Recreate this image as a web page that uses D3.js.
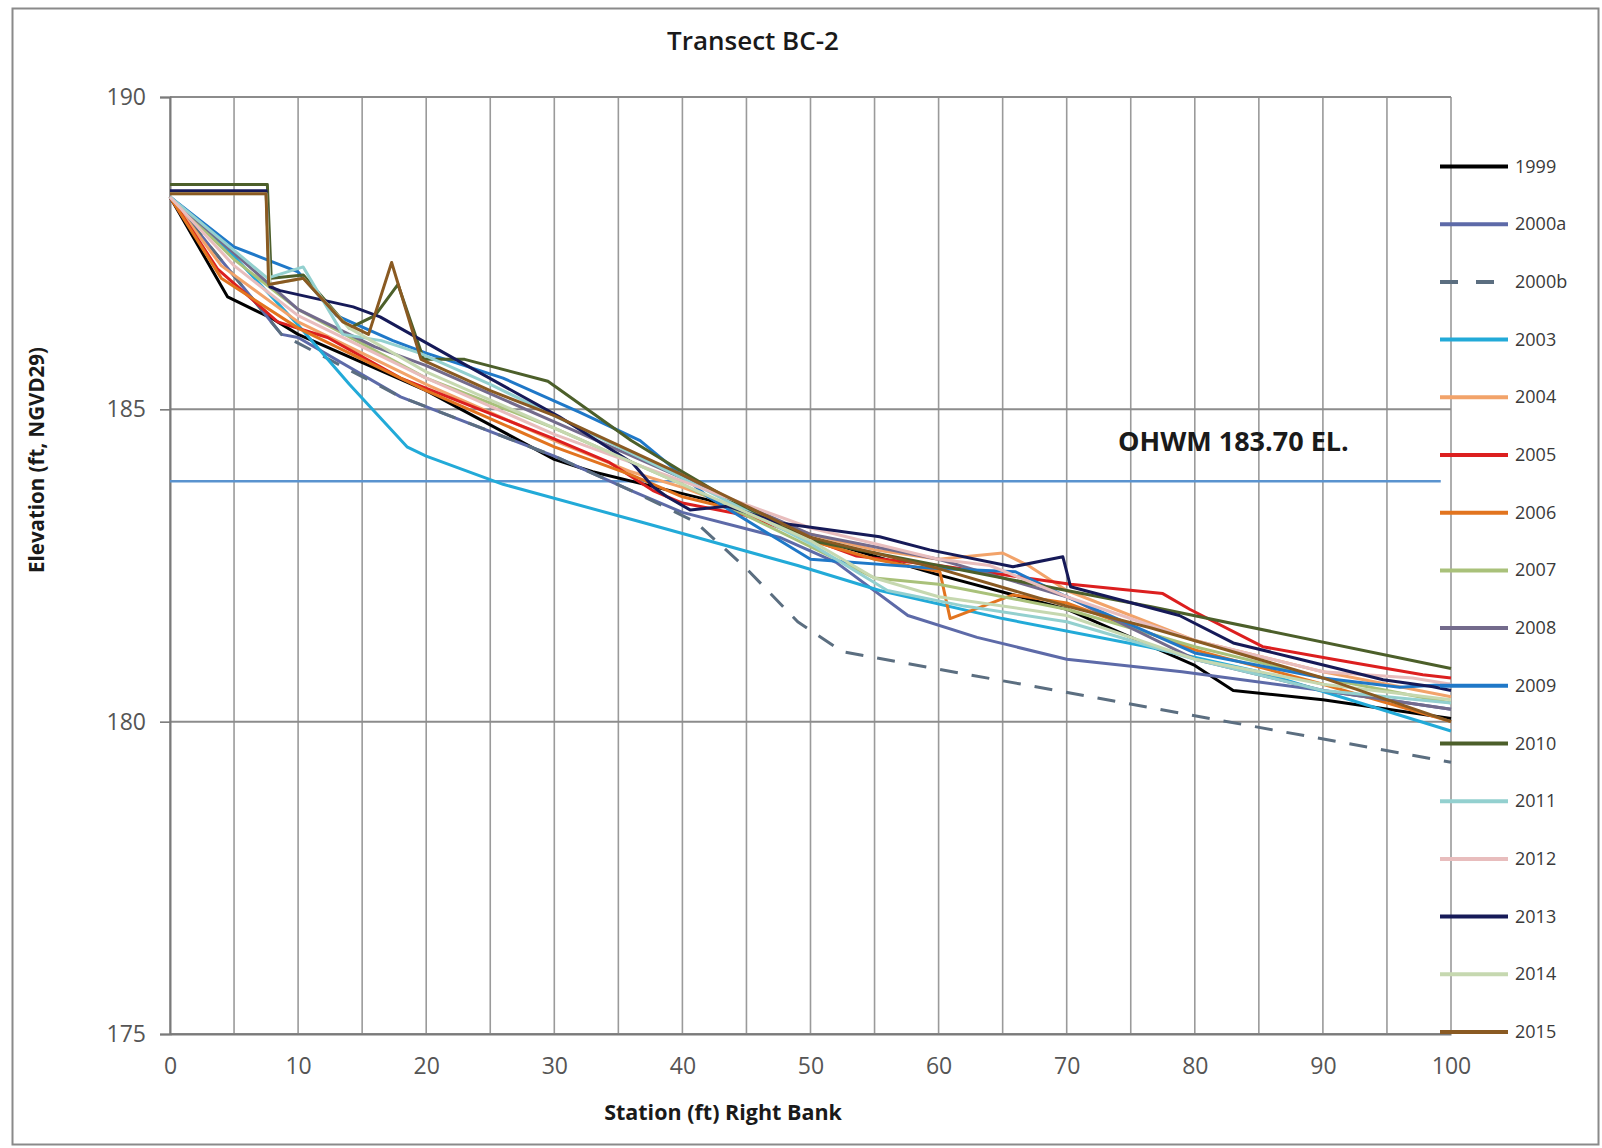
<!DOCTYPE html>
<html>
<head>
<meta charset="utf-8">
<script src="https://cdn.jsdelivr.net/npm/d3@7/dist/d3.min.js"></script>
<style>
  body { margin: 0; background: #fff; }
  text { font-family: "Open Sans", Lato, sans-serif; }
</style>
</head>
<body>
<div id="chart"></div>
<script>
var svgWidth = 1602;
var svgHeight = 1148;

var margin = { top: 97, right: 151, bottom: 114, left: 170 };
var width = svgWidth - margin.left - margin.right;
var height = svgHeight - margin.top - margin.bottom;

// station (ft) / elevation pairs
var s1999 = [[0,188.4],[4.5,186.8],[8,186.45],[10,186.2],[20,185.3],[30,184.2],[33,184.0],[38,183.75],[42,183.55],[50,182.95],[60,182.35],[70,181.8],[80,180.9],[83,180.5],[90,180.35],[100,180.05]];
var s2000a = [[0,188.4],[8.7,186.2],[10,186.15],[18,185.2],[30,184.25],[36,183.7],[40,183.35],[47.6,182.95],[52,182.55],[57.6,181.7],[63,181.35],[70,181.0],[79,180.8],[90,180.5],[100,180.2]];
var s2000b = [[0,188.4],[8.7,186.2],[18,185.2],[30,184.25],[36,183.7],[41,183.2],[45,182.45],[49,181.6],[52.5,181.12],[100,179.35]];
var s2003 = [[0,188.4],[5,187.45],[10,186.35],[14,185.4],[18.5,184.4],[20,184.25],[26,183.8],[36.7,183.2],[49,182.5],[55.4,182.1],[65,181.65],[76.3,181.2],[85,180.8],[100,179.85]];
var s2004 = [[0,188.4],[4,187.3],[10,186.4],[20,185.4],[30,184.5],[36,184.0],[40,183.75],[50,183.0],[55,182.75],[60,182.6],[65,182.7],[67,182.5],[70,182.1],[80,181.3],[90,180.8],[100,180.4]];
var s2005 = [[0,188.4],[3.7,187.25],[8.4,186.4],[12.3,186.15],[18,185.5],[29.7,184.55],[34.3,184.15],[37.7,183.7],[40,183.5],[45,183.3],[53.6,182.65],[60,182.5],[70.3,182.2],[77.5,182.05],[79.6,181.8],[85.3,181.2],[90.8,181.0],[97.8,180.75],[100,180.7]];
var s2006 = [[0,188.4],[4,187.1],[10,186.3],[20,185.3],[30,184.4],[36,183.95],[40,183.6],[45,183.35],[50,182.9],[55,182.6],[60.1,182.4],[60.9,181.65],[65.8,182.03],[70,181.9],[80,181.15],[90,180.6],[100,180.0]];
var s2007 = [[0,188.4],[5,187.4],[10,186.6],[20,185.5],[30,184.7],[40,183.8],[50,182.8],[55,182.3],[60,182.2],[70,181.8],[80,181.2],[90,180.7],[100,180.3]];
var s2008 = [[0,188.4],[5,187.5],[10,186.6],[16,186.0],[20,185.7],[30,184.8],[40,183.9],[50,183.0],[60,182.6],[70,182.0],[80,181.0],[90,180.5],[100,180.2]];
var s2009 = [[0,188.4],[5,187.6],[10,187.2],[13,186.5],[17.4,186.1],[20,185.9],[26,185.5],[32,184.95],[36.7,184.5],[42,183.6],[47.6,182.9],[50,182.6],[60,182.45],[66,182.4],[70,182.0],[80,181.1],[90,180.7],[96,180.55],[100,180.6]];
var s2010 = [[0,188.6],[7.6,188.6],[7.9,187.1],[10.4,187.15],[14,186.3],[16,186.5],[17.8,187.0],[19.8,185.8],[23,185.8],[29.5,185.45],[36,184.5],[40,184.0],[45,183.4],[50,182.9],[60,182.5],[70,182.1],[76.6,181.84],[100,180.85]];
var s2011 = [[0,188.4],[7.6,187.1],[10.4,187.28],[13.5,186.2],[16.5,186.1],[19.5,185.9],[25,185.4],[30,184.9],[40,183.9],[50,182.85],[56,182.1],[62,181.85],[70,181.6],[80,181.0],[90,180.5],[100,180.3]];
var s2012 = [[0,188.4],[5,187.3],[10,186.5],[20,185.5],[30,184.6],[40,183.85],[50,183.1],[60,182.6],[64,182.5],[70,182.0],[80,181.3],[90,180.8],[97,180.7],[100,180.6]];
var s2013 = [[0,188.5],[7.5,188.5],[7.8,186.96],[8.6,186.9],[14.3,186.64],[16.4,186.48],[22.3,185.8],[30.4,184.88],[36.1,184.14],[37.7,183.76],[38.8,183.6],[40.6,183.39],[43.5,183.45],[47.6,183.18],[55.4,182.96],[59.3,182.75],[65.8,182.48],[69.7,182.64],[70.3,182.16],[78.8,181.7],[83,181.26],[88.2,181.0],[94.7,180.67],[98.6,180.56],[100,180.5]];
var s2014 = [[0,188.45],[7.5,188.45],[7.8,187.0],[10.4,187.1],[14,186.3],[20,185.6],[30,184.7],[40,183.8],[50,182.9],[55,182.3],[60,182.0],[70,181.7],[80,181.0],[90,180.6],[100,180.35]];
var s2015 = [[0,188.45],[7.5,188.45],[7.7,187.0],[10.4,187.1],[13.5,186.4],[15.5,186.2],[17.3,187.35],[19.6,185.8],[25,185.3],[30,184.9],[40,183.95],[50,182.95],[60,182.45],[70,181.85],[76.6,181.5],[90,180.7],[100,180.0]];

var seriesNames = ["1999","2000a","2000b","2003","2004","2005","2006","2007","2008","2009","2010","2011","2012","2013","2014","2015"];
var seriesData = [s1999,s2000a,s2000b,s2003,s2004,s2005,s2006,s2007,s2008,s2009,s2010,s2011,s2012,s2013,s2014,s2015];
var seriesColors = ["#000000","#5d6aa8","#5b6e80","#22aad8","#f2a36a","#dc1f1f","#e2741f","#a9c17a","#736b8c","#1f78c8","#4c5f2a","#93d0cf","#e8bdbd","#161a58","#c6d8b0","#8a5a22"];

var ohwmValue = 183.85;   // drawn level of the OHWM line
var ohwmLabel = "OHWM 183.70 EL.";
var xTicks = [0,10,20,30,40,50,60,70,80,90,100];
var yTicks = [175,180,185,190];

var svg = d3.select("#chart")
  .append("svg")
  .attr("width", svgWidth)
  .attr("height", svgHeight);

// outer chart border
svg.append("rect")
  .attr("x", 12.5).attr("y", 8.5)
  .attr("width", 1586).attr("height", 1136)
  .attr("fill", "none")
  .attr("stroke", "#8a8a8a")
  .attr("stroke-width", 2);

var chartGroup = svg.append("g")
  .attr("transform", `translate(${margin.left}, ${margin.top})`);

var xScale = d3.scaleLinear().domain([0, 100]).range([0, width]);
var yScale = d3.scaleLinear().domain([175, 190]).range([height, 0]);

// vertical grid every 5 ft
chartGroup.append("g")
  .selectAll("line")
  .data(d3.range(0, 101, 5))
  .enter().append("line")
  .attr("x1", d => xScale(d)).attr("x2", d => xScale(d))
  .attr("y1", 0).attr("y2", height)
  .attr("stroke", "#9a9a9a")
  .attr("stroke-width", 1.6);

// horizontal grid
chartGroup.append("g")
  .selectAll("line")
  .data(yTicks)
  .enter().append("line")
  .attr("x1", 0).attr("x2", width)
  .attr("y1", d => yScale(d)).attr("y2", d => yScale(d))
  .attr("stroke", "#8c8c8c")
  .attr("stroke-width", 2);

// axes
var leftAxis = d3.axisLeft(yScale).tickValues(yTicks).tickSize(10).tickPadding(14);
var bottomAxis = d3.axisBottom(xScale).tickValues(xTicks).tickSize(0).tickPadding(24);

var yAxisG = chartGroup.append("g").call(leftAxis);
var xAxisG = chartGroup.append("g")
  .attr("transform", `translate(0, ${height})`)
  .call(bottomAxis);

[yAxisG, xAxisG].forEach(function(g) {
  g.select(".domain").attr("stroke", "#7a7a7a").attr("stroke-width", 2);
  g.selectAll(".tick line").attr("stroke", "#7a7a7a").attr("stroke-width", 1.6);
  g.selectAll(".tick text")
    .attr("fill", "#555")
    .style("font-size", "23px")
    .style("font-family", "'Open Sans', sans-serif");
});

// OHWM line
chartGroup.append("line")
  .attr("x1", xScale(0)).attr("x2", xScale(99.2))
  .attr("y1", yScale(ohwmValue)).attr("y2", yScale(ohwmValue))
  .attr("stroke", "#5a93cf")
  .attr("stroke-width", 2.5);

chartGroup.append("text")
  .attr("x", 948)
  .attr("y", yScale(ohwmValue) - 30)
  .attr("font-size", "27px")
  .attr("font-weight", "bold")
  .attr("fill", "#1a1a1a")
  .text(ohwmLabel);

// series lines
var line = d3.line()
  .x(d => xScale(d[0]))
  .y(d => yScale(d[1]));

seriesData.forEach(function(pts, i) {
  chartGroup.append("path")
    .datum(pts)
    .attr("fill", "none")
    .attr("stroke", seriesColors[i])
    .attr("stroke-width", 3)
    .attr("stroke-linejoin", "round")
    .attr("stroke-dasharray", seriesNames[i] === "2000b" ? "18,14" : null)
    .attr("d", line);
});

// legend
var legend = svg.append("g")
  .attr("transform", "translate(1440, 166.5)");

var legendItems = legend.selectAll("g")
  .data(seriesNames)
  .enter().append("g")
  .attr("transform", (d, i) => `translate(0, ${i * 57.7})`);

legendItems.append("line")
  .attr("x1", 0).attr("x2", 68)
  .attr("y1", 0).attr("y2", 0)
  .attr("stroke", (d, i) => seriesColors[i])
  .attr("stroke-width", 4)
  .attr("stroke-dasharray", d => d === "2000b" ? "18,18" : null);

legendItems.append("text")
  .attr("x", 75)
  .attr("y", 6)
  .attr("font-size", "18px")
  .attr("fill", "#3a3a3a")
  .text(d => d);

// titles
svg.append("text")
  .attr("x", 753)
  .attr("y", 50)
  .attr("text-anchor", "middle")
  .attr("font-size", "26px")
  .attr("font-weight", "600")
  .attr("fill", "#1a1a1a")
  .text("Transect BC-2");

svg.append("text")
  .attr("transform", "rotate(-90)")
  .attr("x", -460)
  .attr("y", 44)
  .attr("text-anchor", "middle")
  .attr("font-size", "20.5px")
  .attr("font-weight", "bold")
  .attr("fill", "#1a1a1a")
  .text("Elevation (ft, NGVD29)");

svg.append("text")
  .attr("x", 723)
  .attr("y", 1120)
  .attr("text-anchor", "middle")
  .attr("font-size", "21.5px")
  .attr("font-weight", "bold")
  .attr("fill", "#1a1a1a")
  .text("Station (ft) Right Bank");
</script>
</body>
</html>
